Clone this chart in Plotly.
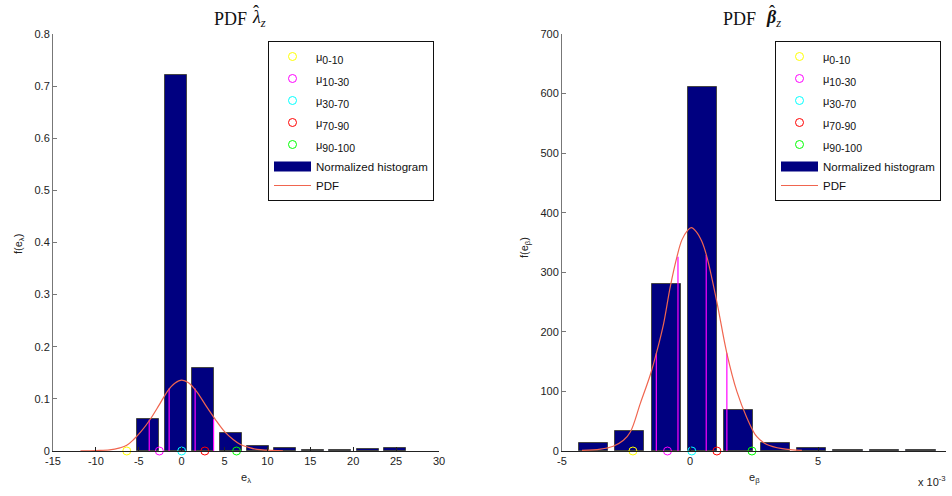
import plotly.graph_objects as go

W, H = 952, 496

# ---------------- data: left panel (lambda) ----------------
lam_bin_centers = [-3.9, -0.7, 2.5, 5.7, 8.9, 12.1, 15.3, 18.5, 21.7, 24.9]
lam_bin_heights = [0.062, 0.722, 0.160, 0.034, 0.010, 0.005, 0.002, 0.0015, 0.003, 0.005]
lam_bin_width = 2.56
lam_pdf_x = [-11.8, -10.0, -8.4, -7.2, -6.4, -5.6, -4.7, -3.7, -2.6, -1.6, -0.8, 0.0,
             0.8, 1.75, 2.9, 3.9, 5.0, 6.0, 6.8, 7.8, 8.8, 10.0, 11.8]
lam_pdf_y = [0.0005, 0.001, 0.002, 0.006, 0.011, 0.022, 0.038, 0.060, 0.089, 0.116, 0.130, 0.136,
             0.131, 0.114, 0.085, 0.061, 0.037, 0.022, 0.013, 0.007, 0.003, 0.0015, 0.0005]
lam_mu = [-6.4, -2.6, 0.0, 2.7, 6.4]
lam_vline_x = [-3.78, -1.46, 1.57, 3.72]
lam_vline_h = [0.060, 0.120, 0.120, 0.061]
lam_xticks = [-15, -10, -5, 0, 5, 10, 15, 20, 25, 30]
lam_xticktext = ["-15", "-10", "-5", "0", "5", "10", "15", "20", "25", "30"]

# ---------------- data: right panel (beta), x in units of 1e-3 ----------------
beta_bin_centers = [-3.78, -2.35, -0.93, 0.49, 1.90, 3.33, 4.75, 6.17, 7.60, 9.02]
beta_bin_heights = [13.4, 33.6, 280, 611, 68, 13.4, 5, 1.2, 1.2, 1.2]
beta_bin_width = 1.14
beta_pdf_x = [-4.22, -3.5, -3.0, -2.6, -2.33, -1.94, -1.55, -1.29, -1.03, -0.77, -0.51, -0.32,
              -0.1, 0.05, 0.25, 0.46, 0.66, 1.05, 1.44, 1.83, 2.22, 2.61, 3.0, 3.6, 4.37]
beta_pdf_y = [1, 3, 8, 18, 32, 80, 128, 168, 214, 276, 326, 354,
              370, 375, 368, 352, 326, 250, 164, 100, 56, 24, 11, 4, 1]
beta_mu = [-2.23, -0.88, 0.07, 1.05, 2.42]
beta_vline_x = [-1.315, -0.47, 0.634, 1.44]
beta_vline_h = [164, 326, 329, 164]
beta_scale = 1e-3
beta_xticks = [-5, 0, 5, 10]
beta_xticktext = ["-5", "0", "5", "10"]

mu_labels = ["0-10", "10-30", "30-70", "70-90", "90-100"]
mu_colors = ["#ffff00", "#ff00ff", "#00ffff", "#ff0000", "#00ff00"]

NAVY = "#000080"
PDF_COLOR = "#f0654f"
VLINE_COLOR = "#ff00ff"
FONT = "Liberation Sans, Arial, sans-serif"
SERIF = "Liberation Serif, DejaVu Serif, serif"

fig = go.Figure()


def add_panel(xa, ya, leg, centers, heights, width, px, py, mu, vx, vh, scale):
    fig.add_trace(go.Bar(x=[c * scale for c in centers], y=heights, width=width * scale,
                         marker=dict(color=NAVY, line=dict(color="#454545", width=1)),
                         showlegend=False, xaxis=xa, yaxis=ya, hoverinfo="skip"))
    for x, h in zip(vx, vh):
        fig.add_trace(go.Scatter(x=[x * scale, x * scale], y=[0, h], mode="lines",
                                 line=dict(color=VLINE_COLOR, width=1.2),
                                 showlegend=False, xaxis=xa, yaxis=ya, hoverinfo="skip"))
    # legend-only entry for histogram (wide navy block)
    fig.add_trace(go.Scatter(x=[None], y=[None], mode="lines",
                             line=dict(color=NAVY, width=16),
                             name="Normalized histogram", legend=leg, legendgroup=leg + "h",
                             legendrank=6, xaxis=xa, yaxis=ya))
    fig.add_trace(go.Scatter(x=[v * scale for v in px], y=py, mode="lines",
                             line=dict(color=PDF_COLOR, width=1.2, shape="spline"),
                             name="PDF", legend=leg, legendgroup=leg + "h", legendrank=7,
                             xaxis=xa, yaxis=ya))
    for i, (m, lab, col) in enumerate(zip(mu, mu_labels, mu_colors)):
        nm = ('<span style="font-size:11px">μ</span>'
              '<span style="font-size:15px"><sub>' + lab + '</sub></span>')
        fig.add_trace(go.Scatter(x=[m * scale], y=[0], mode="markers",
                                 marker=dict(symbol="circle-open", size=8,
                                             color=col, line=dict(color=col, width=1)),
                                 name=nm, legend=leg, legendgroup=leg + str(i),
                                 legendrank=i + 1, cliponaxis=False,
                                 xaxis=xa, yaxis=ya))


add_panel("x", "y", "legend", lam_bin_centers, lam_bin_heights, lam_bin_width,
          lam_pdf_x, lam_pdf_y, lam_mu, lam_vline_x, lam_vline_h, 1.0)
add_panel("x2", "y2", "legend2", beta_bin_centers, beta_bin_heights, beta_bin_width,
          beta_pdf_x, beta_pdf_y, beta_mu, beta_vline_x, beta_vline_h, beta_scale)

ydom = [1 - 451 / H, 1 - 34 / H]
axis_common = dict(showgrid=False, zeroline=False, showline=True, ticks="inside",
                   ticklen=4, tickwidth=1, automargin=False,
                   tickfont=dict(family=FONT, size=11, color="#222222"))

legend_common = dict(bgcolor="white", bordercolor="#111111", borderwidth=1,
                     font=dict(family=FONT, size=11.5, color="#111111"),
                     itemwidth=37, tracegroupgap=3, xanchor="left", yanchor="top",
                     traceorder="grouped")

fig.update_layout(
    width=W, height=H, autosize=False,
    margin=dict(l=0, r=0, t=0, b=0, pad=0),
    paper_bgcolor="white", plot_bgcolor="white",
    bargap=0,
    xaxis=dict(domain=[53 / W, 439 / W], range=[-15, 30],
               tickvals=lam_xticks, ticktext=lam_xticktext,
               linecolor="#222222", tickcolor="#222222", anchor="y", **axis_common),
    yaxis=dict(domain=ydom, range=[0, 0.8], dtick=0.1, tick0=0,
               linecolor="#777777", tickcolor="#777777", anchor="x", **axis_common),
    xaxis2=dict(domain=[562 / W, 946 / W], range=[-5e-3, 10e-3],
                tickvals=[t * beta_scale for t in beta_xticks], ticktext=beta_xticktext,
                linecolor="#222222", tickcolor="#222222", anchor="y2", **axis_common),
    yaxis2=dict(domain=ydom, range=[0, 700], dtick=100, tick0=0,
                linecolor="#777777", tickcolor="#777777", anchor="x2", **axis_common),
    legend=dict(x=268 / W, y=1 - 41 / H, **legend_common),
    legend2=dict(x=775 / W, y=1 - 41 / H, **legend_common),
    showlegend=True,
)


def px_x(v):
    return v / W


def px_y(v):
    return 1 - v / H


annots = [
    # left title pieces
    dict(text="PDF", x=px_x(212), y=px_y(18.5), xanchor="left", yanchor="middle",
         font=dict(family=SERIF, size=18, color="#111111")),
    dict(text="<i>λ</i><sub><i>z</i></sub>", x=px_x(250), y=px_y(18.5), xanchor="left",
         yanchor="middle", font=dict(family=SERIF, size=18, color="#111111")),
    dict(text="ˆ", x=px_x(256), y=px_y(11.5), xanchor="center", yanchor="middle",
         font=dict(family=SERIF, size=18, color="#111111")),
    # right title pieces
    dict(text="PDF", x=px_x(721), y=px_y(18.5), xanchor="left", yanchor="middle",
         font=dict(family=SERIF, size=18, color="#111111")),
    dict(text="<b><i>β</i></b><sub><i>z</i></sub>", x=px_x(764), y=px_y(18.5), xanchor="left",
         yanchor="middle", font=dict(family=SERIF, size=18, color="#111111")),
    dict(text="ˆ", x=px_x(772), y=px_y(11.5), xanchor="center", yanchor="middle",
         font=dict(family=SERIF, size=18, color="#111111")),
    # axis labels
    dict(text="e<sub>λ</sub>", x=px_x(246), y=px_y(478), xanchor="center", yanchor="middle",
         font=dict(family=FONT, size=11, color="#222222")),
    dict(text="e<sub>β</sub>", x=px_x(754), y=px_y(478), xanchor="center", yanchor="middle",
         font=dict(family=FONT, size=11, color="#222222")),
    dict(text="f(e<sub>λ</sub>)", x=px_x(19), y=px_y(244), xanchor="center", yanchor="middle",
         textangle=-90, font=dict(family=FONT, size=11, color="#222222")),
    dict(text="f(e<sub>β</sub>)", x=px_x(525), y=px_y(248), xanchor="center", yanchor="middle",
         textangle=-90, font=dict(family=FONT, size=11, color="#222222")),
    dict(text="x 10<sup>-3</sup>", x=px_x(932), y=px_y(481), xanchor="center", yanchor="middle",
         font=dict(family=FONT, size=11, color="#222222")),
]
for a in annots:
    a.update(xref="paper", yref="paper", showarrow=False)
fig.update_layout(annotations=annots)

fig.write_html("out.html",
               post_script="document.body.style.margin='0';"
                           "document.body.style.overflow='hidden';")
